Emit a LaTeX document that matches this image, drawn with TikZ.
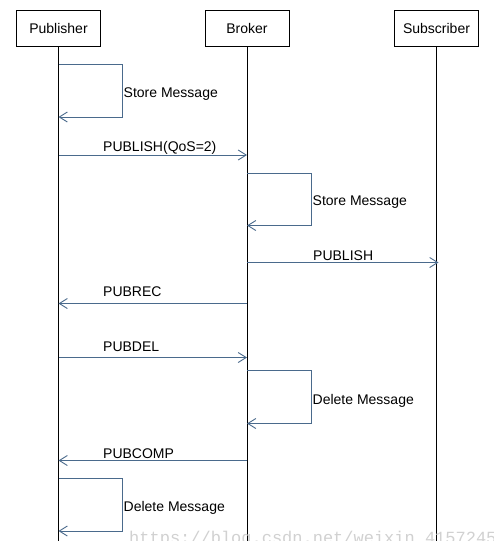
\documentclass[tikz,border=0pt]{standalone}
\usepackage{fontspec}
\setmainfont{Liberation Sans}
\newfontfamily\wmfont{Liberation Mono}
\usetikzlibrary{arrows.meta}
\definecolor{msgc}{HTML}{4A6A8C}
\begin{document}
\begin{tikzpicture}[x=1pt,y=-1pt,
  actor/.style={draw=black,line width=0.9pt,minimum width=84pt,minimum height=36pt,inner sep=0pt,font=\fontsize{14}{16}\selectfont},
  life/.style={draw=black,line width=0.9pt},
  msg/.style={draw=msgc,line width=0.9pt,-{Straight Barb[length=8pt,width=10pt,line width=0.9pt]}},
  lbl/.style={anchor=west,inner sep=0pt,font=\fontsize{14}{16}\selectfont}]
\useasboundingbox (0,0) rectangle (493,541);
\fill[white] (0,0) rectangle (493,541);
% actors
\node[actor] (pub) at (58.5,28) {Publisher};
\node[actor] (bro) at (247,28) {Broker};
\node[actor] (sub) at (436.5,28) {Subscriber};
% lifeline ends
\coordinate (pubE) at (58.5,541);
\coordinate (broE) at (247,541);
\coordinate (subE) at (436.5,541);
\draw[life] (pub.south) -- (pubE);
\draw[life] (bro.south) -- (broE);
\draw[life] (sub.south) -- (subE);
% points on lifelines
\coordinate (p1a) at (58.5,64.5);  \coordinate (p1b) at (122.5,64.5);
\coordinate (p1c) at (122.5,117);  \coordinate (p1d) at (58.5,117);
\coordinate (p2a) at (58.5,155);   \coordinate (b2a) at (247,155);
\coordinate (b3a) at (247,173.5);  \coordinate (b3b) at (311.5,173.5);
\coordinate (b3c) at (311.5,225.5);\coordinate (b3d) at (247,225.5);
\coordinate (b4a) at (247,262.5);  \coordinate (s4a) at (438.5,262.5);
\coordinate (b5a) at (247,303.5);  \coordinate (p5a) at (58.5,303.5);
\coordinate (p6a) at (58.5,357.5); \coordinate (b6a) at (247,357.5);
\coordinate (b7a) at (247,370.5);  \coordinate (b7b) at (311.5,370.5);
\coordinate (b7c) at (311.5,423.5);\coordinate (b7d) at (247,423.5);
\coordinate (b8a) at (247,460.5);  \coordinate (p8a) at (58.5,460.5);
\coordinate (p9a) at (58.5,478.5); \coordinate (p9b) at (122.5,478.5);
\coordinate (p9c) at (122.5,531);  \coordinate (p9d) at (58.5,531);
% messages
\draw[msg] (p1a) -- (p1b) -- (p1c) -- (p1d);
\node[lbl] (t1) at (123.5,94) {Store Message};
\draw[msg] (p2a) -- (b2a);
\node[lbl] (t2) at (103,147.5) {PUBLISH(QoS=2)};
\draw[msg] (b3a) -- (b3b) -- (b3c) -- (b3d);
\node[lbl] (t3) at (312.5,202) {Store Message};
\draw[msg] (b4a) -- (s4a);
\node[lbl] (t4) at (313,256) {PUBLISH};
\draw[msg] (b5a) -- (p5a);
\node[lbl] (t5) at (103,292) {PUBREC};
\draw[msg] (p6a) -- (b6a);
\node[lbl] (t6) at (103,346.5) {PUBDEL};
\draw[msg] (b7a) -- (b7b) -- (b7c) -- (b7d);
\node[lbl] (t7) at (312.5,400.5) {Delete Message};
\draw[msg] (b8a) -- (p8a);
\node[lbl] (t8) at (103,454) {PUBCOMP};
\draw[msg] (p9a) -- (p9b) -- (p9c) -- (p9d);
\node[lbl] (t9) at (123.5,508) {Delete Message};
% watermark
\node[anchor=base west,inner sep=0pt,text=black!18,font=\wmfont\fontsize{17}{19}\selectfont] (wm) at (129,543) {https://blog.csdn.net/weixin\_41572450};
\end{tikzpicture}
\end{document}
